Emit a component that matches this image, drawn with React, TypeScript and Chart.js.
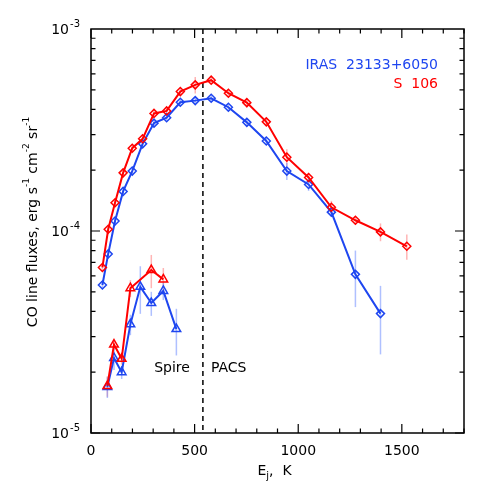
import React, { useEffect, useRef } from "react";
import { Chart, registerables } from "chart.js";

Chart.register(...registerables);

// ---- data ----
const coEnergy = [55, 83, 116, 155, 199, 249, 304, 365, 431, 503, 580, 663, 752, 846, 945, 1050, 1160, 1276, 1397, 1524];
const s106CO = [6.6e-5, 1.02e-4, 1.38e-4, 1.94e-4, 2.57e-4, 2.86e-4, 3.82e-4, 3.93e-4, 4.9e-4, 5.29e-4, 5.58e-4, 4.81e-4, 4.32e-4, 3.47e-4, 2.32e-4, 1.84e-4, 1.31e-4, 1.13e-4, 9.9e-5, 8.4e-5];
const s106COErr = [3e-6, 4e-6, 5e-6, 7e-6, 9e-6, 1e-5, 1.2e-5, 1.3e-5, 1.8e-5, 5e-5, 2e-5, 1.6e-5, 2.3e-5, 1.6e-5, 2.2e-5, 1e-5, 1e-5, 5.5e-6, 1e-5, 1.2e-5];
const irasEnergy = coEnergy.slice(0, 19);
const irasCO = [5.4e-5, 7.7e-5, 1.12e-4, 1.57e-4, 1.98e-4, 2.7e-4, 3.42e-4, 3.64e-4, 4.34e-4, 4.42e-4, 4.54e-4, 4.1e-4, 3.45e-4, 2.79e-4, 1.98e-4, 1.7e-4, 1.24e-4, 6.1e-5, 3.9e-5];
const irasCOErr = [2.5e-6, 3e-6, 4e-6, 6e-6, 8e-6, 9e-6, 1e-5, 1.1e-5, 1.3e-5, 1.3e-5, 1.4e-5, 1.3e-5, 1.2e-5, 1.1e-5, 1.9e-5, 1.2e-5, 6e-6, 1.9e-5, 1.45e-5];
const s106Energy13 = [79, 111, 148, 190, 291, 349];
const s106CO13 = [1.71e-5, 2.74e-5, 2.33e-5, 5.21e-5, 6.41e-5, 5.76e-5];
const s106CO13Err = [2e-6, 1.5e-6, 1.5e-6, 5e-6, 1.2e-5, 8e-6];
const irasEnergy13 = [79, 111, 148, 190, 238, 291, 349, 412];
const irasCO13 = [1.69e-5, 2.35e-5, 2.0e-5, 3.45e-5, 5.29e-5, 4.4e-5, 5.05e-5, 3.27e-5];
const irasCO13Err = [2e-6, 3e-6, 1.5e-6, 4e-6, 1.4e-5, 6e-6, 5e-6, 8.5e-6];

const xMajorTicks = [0, 500, 1000, 1500];
const yDecades = [-5, -4, -3];
const splitEnergy = 540;
const sourceNames = ["IRAS  23133+6050", "S  106"];
const regionLabels = ["Spire", "PACS"];

const RED = "#ff0000";
const BLUE = "#1e46f0";
const RED_ERR = "rgba(255,120,120,0.55)";
const BLUE_ERR = "rgba(110,140,255,0.55)";
const FONT = '"DejaVu Sans", sans-serif';

function pts(xs: number[], ys: number[]) {
  return xs.map((x, i) => ({ x, y: ys[i] }));
}

const overlay = {
  id: "overlay",
  beforeDatasetsDraw(chart: any) {
    const ctx = chart.ctx;
    const xs = chart.scales.x;
    const ys = chart.scales.y;
    const area = chart.chartArea;
    ctx.save();
    // error bars
    chart.data.datasets.forEach((ds: any, di: number) => {
      const meta = chart.getDatasetMeta(di);
      ctx.strokeStyle = ds.errColor;
      ctx.lineWidth = 1.5;
      ds.data.forEach((p: any, i: number) => {
        const e = ds.errors[i];
        const px = meta.data[i].x;
        const top = ys.getPixelForValue(p.y + e);
        const lo = p.y - e;
        const bot = lo > 0 ? ys.getPixelForValue(lo) : area.bottom;
        ctx.beginPath();
        ctx.moveTo(px, top);
        ctx.lineTo(px, bot);
        ctx.stroke();
      });
    });
    // dashed split line
    const dx = xs.getPixelForValue(splitEnergy);
    ctx.strokeStyle = "#000";
    ctx.lineWidth = 1.5;
    ctx.setLineDash([5, 4]);
    ctx.beginPath();
    ctx.moveTo(dx, area.top);
    ctx.lineTo(dx, area.bottom);
    ctx.stroke();
    ctx.restore();
  },
  afterDraw(chart: any) {
    const ctx = chart.ctx;
    const xs = chart.scales.x;
    const ys = chart.scales.y;
    const a = chart.chartArea;
    ctx.save();
    ctx.strokeStyle = "#000";
    ctx.fillStyle = "#000";
    ctx.lineWidth = 1.5;
    ctx.strokeRect(a.left, a.top, a.right - a.left, a.bottom - a.top);
    ctx.lineWidth = 1.2;
    // x ticks
    for (let v = 0; v <= 1800; v += 100) {
      const px = xs.getPixelForValue(v);
      const len = v % 500 === 0 ? 9 : 4.5;
      ctx.beginPath();
      ctx.moveTo(px, a.bottom);
      ctx.lineTo(px, a.bottom - len);
      ctx.moveTo(px, a.top);
      ctx.lineTo(px, a.top + len);
      ctx.stroke();
    }
    // y ticks
    for (let d = -5; d < -3; d++) {
      for (let m = 1; m <= 9; m++) {
        const v = m * Math.pow(10, d);
        const py = ys.getPixelForValue(v);
        const len = m === 1 ? 9 : 4.5;
        ctx.beginPath();
        ctx.moveTo(a.left, py);
        ctx.lineTo(a.left + len, py);
        ctx.moveTo(a.right, py);
        ctx.lineTo(a.right - len, py);
        ctx.stroke();
      }
    }
    // x tick labels
    ctx.font = `14px ${FONT}`;
    ctx.textAlign = "center";
    ctx.textBaseline = "middle";
    xMajorTicks.forEach((v) => {
      ctx.fillText(String(v), xs.getPixelForValue(v), a.bottom + 18);
    });
    // y tick labels
    yDecades.forEach((d) => {
      const py = ys.getPixelForValue(Math.pow(10, d));
      ctx.font = `10px ${FONT}`;
      const sup = String(d);
      const wSup = ctx.measureText(sup).width;
      ctx.textAlign = "right";
      ctx.textBaseline = "middle";
      const right = a.left - 11;
      ctx.fillText(sup, right, py - 5);
      ctx.font = `14px ${FONT}`;
      ctx.fillText("10", right - wSup - 1, py + 1);
    });
    // x title: E_j, K
    {
      const cy = a.bottom + 38;
      ctx.textAlign = "left";
      ctx.textBaseline = "middle";
      ctx.font = `14px ${FONT}`;
      const wE = ctx.measureText("E").width;
      const wRest = ctx.measureText(",  K").width;
      ctx.font = `10px ${FONT}`;
      const wj = ctx.measureText("j").width;
      const total = wE + wj + wRest;
      let x = (a.left + a.right) / 2 - 3 - total / 2;
      ctx.font = `14px ${FONT}`;
      ctx.fillText("E", x, cy);
      x += wE;
      ctx.font = `10px ${FONT}`;
      ctx.fillText("j", x, cy + 5);
      x += wj;
      ctx.font = `14px ${FONT}`;
      ctx.fillText(",  K", x, cy);
    }
    // y title
    {
      const segs: [string, boolean][] = [
        ["CO line fluxes, erg s", false],
        ["-1", true],
        [" cm", false],
        ["-2", true],
        [" sr", false],
        ["-1", true],
      ];
      let total = 0;
      segs.forEach(([t, s]) => {
        ctx.font = s ? `9px ${FONT}` : `14px ${FONT}`;
        total += ctx.measureText(t).width;
      });
      ctx.translate(33, 222);
      ctx.rotate(-Math.PI / 2);
      ctx.textAlign = "left";
      ctx.textBaseline = "middle";
      let x = -total / 2;
      segs.forEach(([t, s]) => {
        ctx.font = s ? `9px ${FONT}` : `14px ${FONT}`;
        ctx.fillText(t, x, s ? -6 : 0);
        x += ctx.measureText(t).width;
      });
      ctx.setTransform(1, 0, 0, 1, 0, 0);
    }
    // source labels
    ctx.font = `14px ${FONT}`;
    ctx.textAlign = "right";
    ctx.textBaseline = "middle";
    ctx.fillStyle = BLUE;
    ctx.fillText(sourceNames[0], a.right - 26, a.top + 36);
    ctx.fillStyle = RED;
    ctx.fillText(sourceNames[1], a.right - 26, a.top + 55);
    // Spire / PACS
    ctx.fillStyle = "#000";
    const dx = xs.getPixelForValue(splitEnergy);
    const ly = ys.getPixelForValue(2.1e-5);
    ctx.textAlign = "right";
    ctx.fillText(regionLabels[0], dx - 13, ly);
    ctx.textAlign = "left";
    ctx.fillText(regionLabels[1], dx + 8, ly);
    ctx.restore();
  },
};

export default function App() {
  const ref = useRef<HTMLCanvasElement>(null);
  useEffect(() => {
    if (!ref.current) return;
    const common = {
      showLine: true,
      tension: 0,
      borderWidth: 2,
      pointBorderWidth: 1.5,
      pointBackgroundColor: "rgba(0,0,0,0)",
    };
    const chart = new Chart(ref.current, {
      type: "line",
      data: {
        datasets: [
          { ...common, data: pts(coEnergy, s106CO), errors: s106COErr, errColor: RED_ERR, borderColor: RED, pointBorderColor: RED, pointStyle: "rectRot", pointRadius: 4 } as any,
          { ...common, data: pts(irasEnergy, irasCO), errors: irasCOErr, errColor: BLUE_ERR, borderColor: BLUE, pointBorderColor: BLUE, pointStyle: "rectRot", pointRadius: 4 } as any,
          { ...common, data: pts(s106Energy13, s106CO13), errors: s106CO13Err, errColor: RED_ERR, borderColor: RED, pointBorderColor: RED, pointStyle: "triangle", pointRadius: 5 } as any,
          { ...common, data: pts(irasEnergy13, irasCO13), errors: irasCO13Err, errColor: BLUE_ERR, borderColor: BLUE, pointBorderColor: BLUE, pointStyle: "triangle", pointRadius: 5 } as any,
        ],
      },
      options: {
        animation: false,
        responsive: false,
        devicePixelRatio: 1,
        layout: { padding: { left: 91, right: 27, top: 29, bottom: 58 } },
        plugins: { legend: { display: false }, tooltip: { enabled: false } },
        scales: {
          x: { type: "linear", min: 0, max: 1800, display: false },
          y: { type: "logarithmic", min: 1e-5, max: 1e-3, display: false },
        },
      },
      plugins: [overlay],
    });
    return () => chart.destroy();
  }, []);
  return (
    <div style={{ position: "fixed", left: 0, top: 0, width: 491, height: 491, background: "#fff" }}>
      <canvas ref={ref} width={491} height={491} />
    </div>
  );
}
